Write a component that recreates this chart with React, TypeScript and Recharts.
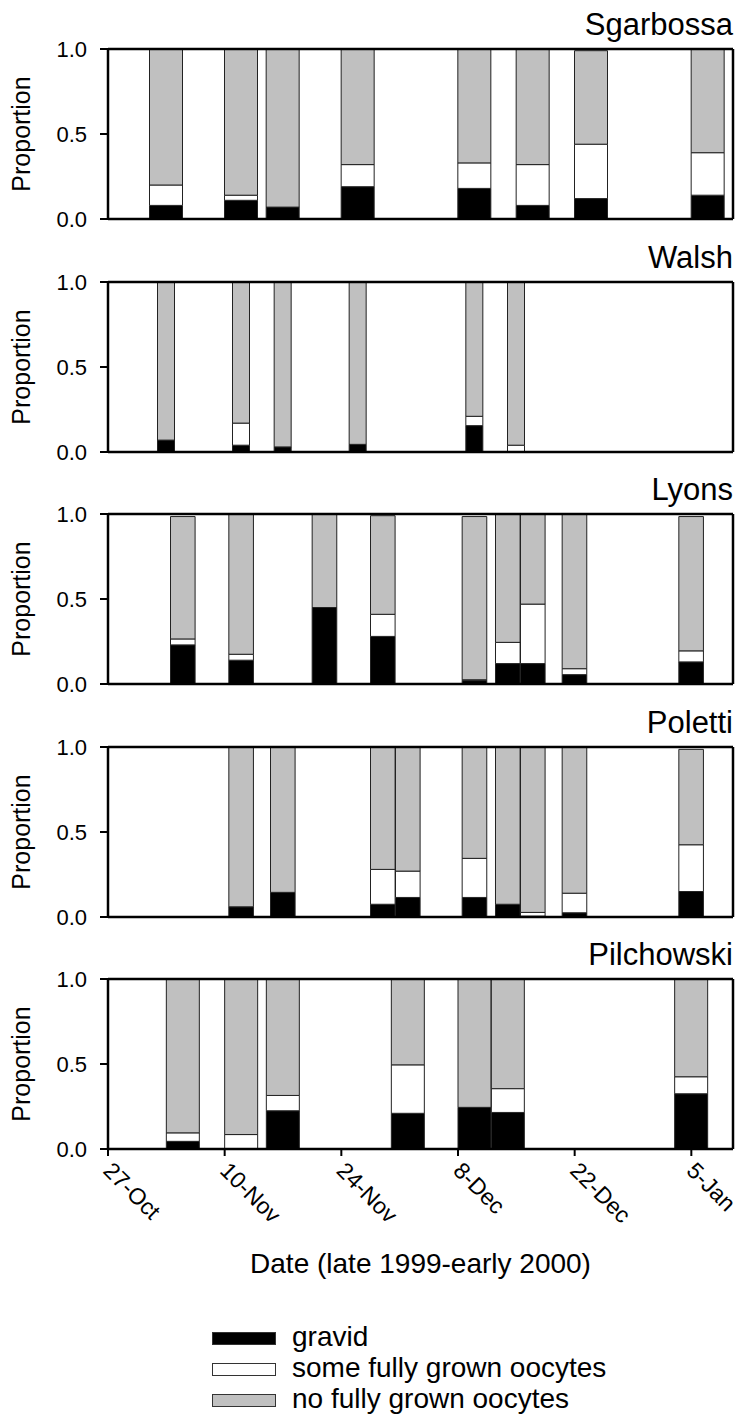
import { BarChart, Bar, XAxis, YAxis, ReferenceLine, Legend } from "recharts"

const FONT = "'Liberation Sans', Arial, Helvetica, sans-serif"

// x values are days after 27-Oct-1999
const tickDays = [0, 14, 28, 42, 56, 70]
const tickLabels = ["27-Oct", "10-Nov", "24-Nov", "8-Dec", "22-Dec", "5-Jan"]
const yTicks = [0, 0.5, 1]

const sgarbossaDays = [7, 16, 21, 30, 44, 51, 58, 72]
const sgarbossaGravid = [0.08, 0.11, 0.07, 0.19, 0.18, 0.08, 0.12, 0.14]
const sgarbossaSome = [0.12, 0.03, 0, 0.13, 0.15, 0.24, 0.32, 0.25]
const sgarbossaNone = [0.8, 0.86, 0.93, 0.68, 0.67, 0.68, 0.55, 0.61]

const walshDays = [7, 16, 21, 30, 44, 49]
const walshGravid = [0.07, 0.04, 0.03, 0.045, 0.155, 0]
const walshSome = [0, 0.13, 0, 0, 0.055, 0.04]
const walshNone = [0.93, 0.83, 0.97, 0.955, 0.79, 0.96]

const lyonsDays = [9, 16, 26, 33, 44, 48, 51, 56, 70]
const lyonsGravid = [0.23, 0.14, 0.45, 0.28, 0.02, 0.12, 0.12, 0.055, 0.13]
const lyonsSome = [0.035, 0.035, 0, 0.13, 0.005, 0.125, 0.35, 0.035, 0.065]
const lyonsNone = [0.72, 0.825, 0.55, 0.58, 0.96, 0.755, 0.53, 0.91, 0.79]

const polettiDays = [16, 21, 33, 36, 44, 48, 51, 56, 70]
const polettiGravid = [0.06, 0.145, 0.075, 0.115, 0.115, 0.075, 0.005, 0.025, 0.15]
const polettiSome = [0, 0, 0.205, 0.155, 0.23, 0, 0.022, 0.115, 0.275]
const polettiNone = [0.94, 0.855, 0.72, 0.73, 0.655, 0.925, 0.973, 0.86, 0.561]

const pilchowskiDays = [9, 16, 21, 36, 44, 48, 70]
const pilchowskiGravid = [0.045, 0, 0.225, 0.21, 0.245, 0.215, 0.325]
const pilchowskiSome = [0.05, 0.085, 0.09, 0.285, 0, 0.14, 0.1]
const pilchowskiNone = [0.905, 0.915, 0.685, 0.505, 0.755, 0.645, 0.575]

const legendItems = [
  { key: "gravid", label: "gravid", color: "#000000" },
  { key: "some", label: "some fully grown oocytes", color: "#ffffff" },
  { key: "none", label: "no fully grown oocytes", color: "#c0c0c0" },
]

const toRows = (days: number[], g: number[], s: number[], n: number[]) =>
  days.map((d, i) => ({ day: d, gravid: g[i], some: s[i], none: n[i] }))

const panels = [
  { title: "Sgarbossa", rows: toRows(sgarbossaDays, sgarbossaGravid, sgarbossaSome, sgarbossaNone), barSize: 33, top: 49 },
  { title: "Walsh", rows: toRows(walshDays, walshGravid, walshSome, walshNone), barSize: 17, top: 282 },
  { title: "Lyons", rows: toRows(lyonsDays, lyonsGravid, lyonsSome, lyonsNone), barSize: 24.6, top: 514 },
  { title: "Poletti", rows: toRows(polettiDays, polettiGravid, polettiSome, polettiNone), barSize: 24.6, top: 747 },
  { title: "Pilchowski", rows: toRows(pilchowskiDays, pilchowskiGravid, pilchowskiSome, pilchowskiNone), barSize: 33, top: 979 },
]

function DateTick({ x, y, payload }: any) {
  const i = tickDays.indexOf(payload.value)
  return (
    <text
      x={0}
      y={0}
      transform={`translate(${x - 6},${y + 14}) rotate(45)`}
      textAnchor="start"
      fontSize={23}
      fontFamily={FONT}
      fill="#000"
    >
      {tickLabels[i]}
    </text>
  )
}

function LegendBox() {
  return (
    <div style={{ fontFamily: FONT, fontSize: 28, color: "#000" }}>
      {legendItems.map((item) => (
        <div key={item.key} style={{ display: "flex", alignItems: "center", height: 31, lineHeight: "31px" }}>
          <div
            style={{
              width: 62,
              height: 11,
              marginTop: 3,
              background: item.color,
              border: "1px solid #333",
              marginRight: 16,
            }}
          />
          <span>{item.label}</span>
        </div>
      ))}
    </div>
  )
}

function Panel({ title, rows, barSize, top, last }: any) {
  const chartTop = top - 49
  const chartH = last ? 1416 - chartTop : 260
  const axisH = last ? 60 : 30
  return (
    <div style={{ position: "absolute", left: 0, top: chartTop, width: 741, height: chartH }}>
      <div
        style={{
          position: "absolute",
          right: 8,
          top: 9,
          fontSize: 31,
          lineHeight: "31px",
          fontFamily: FONT,
          color: "#000",
        }}
      >
        {title}
      </div>
      <BarChart
        width={741}
        height={chartH}
        data={rows}
        margin={{ top: 49, right: 8, left: 48, bottom: chartH - 219 - axisH }}
      >
        <XAxis
          dataKey="day"
          type="number"
          domain={[0, 75]}
          ticks={tickDays}
          height={axisH}
          stroke="#000"
          axisLine={{ stroke: "#000", strokeWidth: 2.5 }}
          tickLine={{ stroke: "#000", strokeWidth: 2 }}
          tickSize={7}
          tick={last ? <DateTick /> : false}
          label={
            last
              ? ({ viewBox }: any) => (
                  <text
                    x={viewBox.x + viewBox.width / 2}
                    y={viewBox.y + 124}
                    textAnchor="middle"
                    fontSize={28}
                    fontFamily={FONT}
                    fill="#000"
                  >
                    Date (late 1999-early 2000)
                  </text>
                )
              : undefined
          }
        />
        <YAxis
          type="number"
          domain={[0, 1]}
          ticks={yTicks}
          width={60}
          axisLine={{ stroke: "#000", strokeWidth: 2.5 }}
          tickLine={{ stroke: "#000", strokeWidth: 2 }}
          tickSize={8}
          tickMargin={13}
          tick={{ fontSize: 22, fontFamily: FONT, fill: "#000" }}
          tickFormatter={(v: number) => v.toFixed(1)}
          label={({ viewBox }: any) => {
            const cy = viewBox.y + viewBox.height / 2
            return (
              <text
                x={30}
                y={cy}
                transform={`rotate(-90, 30, ${cy})`}
                textAnchor="middle"
                fontSize={25}
                fontFamily={FONT}
                fill="#000"
              >
                Proportion
              </text>
            )
          }}
        />
        <Bar dataKey="gravid" stackId="a" fill="#000000" stroke="#222" strokeWidth={1} barSize={barSize} isAnimationActive={false} />
        <Bar dataKey="some" stackId="a" fill="#ffffff" stroke="#222" strokeWidth={1} barSize={barSize} isAnimationActive={false} />
        <Bar dataKey="none" stackId="a" fill="#c0c0c0" stroke="#222" strokeWidth={1} barSize={barSize} isAnimationActive={false} />
        <ReferenceLine y={1} stroke="#000" strokeWidth={2.5} />
        <ReferenceLine x={75} stroke="#000" strokeWidth={2.5} />
        {last && (
          <Legend
            layout="vertical"
            align="center"
            verticalAlign="middle"
            content={() => <LegendBox />}
            wrapperStyle={{ position: "absolute", left: 212, top: 391, width: "auto" }}
          />
        )}
      </BarChart>
    </div>
  )
}

export default function App() {
  return (
    <div style={{ position: "absolute", left: 0, top: 0, width: 741, height: 1416, background: "#fff" }}>
      {panels.map((p, i) => (
        <Panel key={p.title} {...p} last={i === panels.length - 1} />
      ))}
    </div>
  )
}
